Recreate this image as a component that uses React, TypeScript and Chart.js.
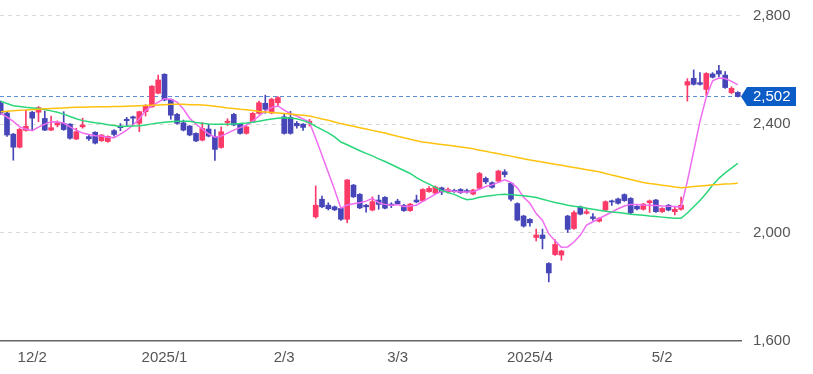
import React, { useEffect, useRef } from 'react';
import { Chart, registerables } from 'chart.js';

Chart.register(...registerables);

const tickIdx = [5, 26, 45, 63, 84, 105];
const tickLabels = ['12/2', '2025/1', '2/3', '3/3', '2025/4', '5/2'];
const yTicks = [1600, 2000, 2400, 2800];

const opens = [
  2478, 2441, 2363, 2315, 2377, 2444, 2444, 2421, 2378, 2397,
  2403, 2400, 2345, 2390, 2354, 2370, 2339, 2336, 2376, 2393,
  2418, 2427, 2403, 2446, 2464, 2514, 2584, 2491, 2436, 2405,
  2393, 2366, 2341, 2382, 2354, 2314, 2406, 2436, 2400, 2366,
  2409, 2440, 2477, 2441, 2479, 2427, 2425, 2403, 2400, 2405,
  2058, 2123, 2101, 2095, 2089, 2049, 2175, 2141, 2101, 2083,
  2120, 2130, 2105, 2116, 2101, 2081, 2120, 2117, 2151, 2145,
  2165, 2151, 2156, 2159, 2155, 2142, 2163, 2200, 2184, 2190,
  2224, 2182, 2107, 2061, 2049, 1982, 1991, 1886, 1919, 1917,
  2061, 2015, 2095, 2071, 2058, 2042, 2083, 2117, 2124, 2140,
  2126, 2097, 2086, 2110, 2120, 2077, 2101, 2077, 2086, 2544,
  2569, 2553, 2528, 2585, 2597, 2581, 2516, 2517,
];
const closes = [
  2441, 2360, 2315, 2381, 2392, 2422, 2461, 2378, 2387, 2405,
  2380, 2348, 2372, 2397, 2346, 2330, 2360, 2355, 2362, 2387,
  2413, 2422, 2446, 2467, 2540, 2563, 2489, 2433, 2403, 2378,
  2360, 2338, 2384, 2356, 2307, 2372, 2411, 2397, 2366, 2390,
  2440, 2479, 2455, 2492, 2498, 2366, 2366, 2394, 2388, 2411,
  2101, 2095, 2088, 2084, 2049, 2194, 2132, 2091, 2095, 2114,
  2104, 2090, 2100, 2106, 2081, 2105, 2113, 2159, 2163, 2168,
  2150, 2159, 2151, 2147, 2150, 2157, 2218, 2187, 2167, 2227,
  2214, 2123, 2046, 2024, 2036, 1991, 1978, 1851, 1956, 1932,
  2012, 2074, 2068, 2077, 2052, 2052, 2114, 2113, 2108, 2118,
  2073, 2087, 2105, 2117, 2077, 2089, 2083, 2086, 2101, 2557,
  2547, 2547, 2587, 2573, 2585, 2535, 2532, 2502,
];
const highs = [
  2485, 2445, 2366, 2384, 2452, 2447, 2465, 2448, 2430, 2412,
  2446, 2402, 2385, 2422, 2360, 2372, 2362, 2357, 2380, 2402,
  2425, 2430, 2448, 2472, 2542, 2581, 2586, 2493, 2440, 2415,
  2395, 2368, 2406, 2400, 2380, 2390, 2420, 2440, 2403, 2393,
  2443, 2485, 2507, 2496, 2502, 2440, 2447, 2410, 2402, 2418,
  2172, 2135, 2110, 2098, 2092, 2196, 2178, 2144, 2104, 2132,
  2138, 2133, 2110, 2123, 2104, 2108, 2138, 2162, 2170, 2172,
  2168, 2165, 2160, 2162, 2160, 2160, 2222, 2205, 2187, 2230,
  2232, 2185, 2110, 2064, 2052, 2013, 2013, 1889, 1974, 1935,
  2064, 2080, 2098, 2090, 2070, 2055, 2117, 2120, 2127, 2143,
  2129, 2100, 2108, 2120, 2123, 2092, 2104, 2095, 2131, 2568,
  2600, 2590, 2590, 2590, 2617, 2594, 2538, 2520,
];
const lows = [
  2436, 2355, 2267, 2312, 2374, 2378, 2409, 2376, 2376, 2390,
  2377, 2345, 2343, 2385, 2340, 2327, 2336, 2333, 2356, 2376,
  2394, 2398, 2372, 2430, 2462, 2512, 2486, 2418, 2400, 2375,
  2357, 2335, 2338, 2353, 2266, 2311, 2395, 2394, 2363, 2363,
  2406, 2437, 2440, 2438, 2465, 2363, 2363, 2385, 2377, 2393,
  2053, 2092, 2083, 2081, 2045, 2036, 2129, 2088, 2075, 2080,
  2086, 2087, 2092, 2103, 2078, 2078, 2110, 2114, 2148, 2142,
  2140, 2145, 2148, 2144, 2145, 2139, 2160, 2180, 2164, 2187,
  2205, 2117, 2043, 2020, 2024, 1969, 1940, 1818, 1916, 1898,
  2000, 2012, 2065, 2068, 2045, 2039, 2080, 2100, 2105, 2115,
  2068, 2084, 2083, 2074, 2074, 2074, 2080, 2065, 2083, 2485,
  2544, 2544, 2506, 2570, 2575, 2532, 2512, 2500,
];
const ma5 = [
  2440, 2426, 2410, 2390, 2382, 2376, 2389, 2400, 2409, 2408,
  2404, 2390, 2378, 2367, 2362, 2357, 2356, 2352, 2350, 2363,
  2378, 2397, 2419, 2450, 2467, 2481, 2494, 2492, 2481, 2456,
  2422, 2400, 2382, 2364, 2352, 2356, 2367, 2378, 2387, 2397,
  2411, 2430, 2448, 2461, 2467, 2452, 2439, 2430, 2419, 2408,
  2348, 2285, 2222, 2158, 2090, 2102, 2106, 2110, 2116, 2126,
  2110, 2104, 2101, 2103, 2096, 2098, 2101, 2115, 2128, 2142,
  2152, 2156, 2152, 2150, 2150, 2151, 2160, 2170, 2176, 2185,
  2195, 2185, 2165, 2130, 2108, 2070, 2045, 1995, 1970, 1946,
  1947, 1965, 1990, 2028, 2040, 2052, 2064, 2076, 2088, 2098,
  2104, 2104, 2102, 2101, 2100, 2098, 2097, 2096, 2094, 2190,
  2300, 2410, 2500, 2560, 2570, 2568, 2558, 2545,
];
const ma25 = [
  2485, 2476, 2468, 2465, 2462, 2460, 2458, 2454, 2449, 2444,
  2437, 2428, 2420, 2413, 2409, 2405, 2402, 2398, 2395, 2391,
  2392, 2393, 2394, 2397, 2401, 2404, 2407, 2409, 2411, 2411,
  2411, 2406, 2403, 2401, 2400, 2400, 2400, 2401, 2402, 2404,
  2407, 2411, 2415, 2419, 2422, 2424, 2423, 2420, 2413, 2405,
  2392, 2380, 2368, 2353, 2334, 2324, 2313, 2302, 2292, 2283,
  2272, 2262, 2251, 2240, 2229, 2218, 2203, 2190, 2179, 2167,
  2155, 2148, 2141, 2130, 2121, 2124, 2130, 2134, 2137, 2140,
  2141, 2140, 2138, 2136, 2133, 2129, 2123, 2117, 2111, 2106,
  2101, 2097, 2094, 2090, 2086, 2082, 2079, 2076, 2074, 2071,
  2068, 2066, 2064, 2061, 2059, 2057, 2055, 2053, 2053, 2072,
  2095, 2118, 2145, 2175, 2200, 2220, 2238, 2255,
];
const ma75 = [
  2446, 2448, 2449, 2451, 2452, 2454, 2455, 2457, 2458, 2459,
  2460, 2461, 2462, 2462, 2463, 2464, 2464, 2464, 2465, 2465,
  2466, 2467, 2468, 2469, 2470, 2471, 2472, 2473, 2473, 2473,
  2472, 2472, 2471, 2469, 2466, 2463, 2460, 2458, 2455, 2453,
  2450, 2447, 2445, 2443, 2441, 2439, 2437, 2435, 2433, 2430,
  2425, 2419, 2414, 2408, 2402, 2397, 2392, 2387, 2382, 2377,
  2372, 2367, 2361, 2355, 2350, 2344, 2339, 2334, 2331, 2328,
  2325, 2322, 2319, 2316, 2313, 2309, 2304, 2300, 2295, 2291,
  2286, 2282, 2277, 2272, 2268, 2264, 2260, 2256, 2252, 2248,
  2244, 2240, 2236, 2232, 2228, 2224, 2218, 2212, 2207, 2201,
  2196, 2190, 2185, 2181, 2178, 2175, 2172, 2168, 2165, 2167,
  2170, 2172, 2174, 2176, 2177, 2179, 2180, 2182,
];

const UP = '#fc3a68';
const DOWN = '#4646b8';
const FONT = '"Liberation Sans", Arial, sans-serif';

const priceTag = {
  id: 'priceTag',
  beforeDatasetsDraw(chart: any) {
    const { ctx, chartArea, scales } = chart;
    const last = closes[closes.length - 1];
    const y = Math.round(scales.y.getPixelForValue(last)) + 0.5;
    ctx.save();
    ctx.strokeStyle = '#5a8fd8';
    ctx.lineWidth = 1;
    ctx.setLineDash([4, 3]);
    ctx.beginPath();
    ctx.moveTo(chartArea.left, y);
    ctx.lineTo(chartArea.right, y);
    ctx.stroke();
    ctx.restore();
  },
  afterDraw(chart: any) {
    const { ctx, chartArea, scales } = chart;
    const last = closes[closes.length - 1];
    const y = scales.y.getPixelForValue(last);
    const x0 = chartArea.right;
    ctx.save();
    ctx.fillStyle = '#0b5cc6';
    ctx.beginPath();
    ctx.moveTo(x0, y);
    ctx.lineTo(x0 + 6, y - 9.5);
    ctx.lineTo(x0 + 55, y - 9.5);
    ctx.lineTo(x0 + 55, y + 9.5);
    ctx.lineTo(x0 + 6, y + 9.5);
    ctx.closePath();
    ctx.fill();
    ctx.fillStyle = '#ffffff';
    ctx.font = '15px ' + FONT;
    ctx.textBaseline = 'middle';
    ctx.textAlign = 'left';
    ctx.fillText(last.toLocaleString('en-US'), x0 + 12, y + 0.5);
    ctx.restore();
  },
};

export default function App() {
  const ref = useRef<HTMLCanvasElement | null>(null);
  useEffect(() => {
    document.body.style.margin = '0';
    const canvas = ref.current;
    if (!canvas) return;
    const idx = opens.map((_, i) => i);
    const colors = idx.map((i) => (closes[i] >= opens[i] ? UP : DOWN));
    const chart = new Chart(canvas, {
      type: 'bar',
      data: {
        datasets: [
          {
            type: 'line',
            data: idx.map((i) => ({ x: i, y: ma75[i] })),
            borderColor: '#ffc20e',
            borderWidth: 1.5,
            pointRadius: 0,
            order: 0,
          } as any,
          {
            type: 'line',
            data: idx.map((i) => ({ x: i, y: ma25[i] })),
            borderColor: '#2ad67a',
            borderWidth: 1.5,
            pointRadius: 0,
            order: 0,
          } as any,
          {
            type: 'line',
            data: idx.map((i) => ({ x: i, y: ma5[i] })),
            borderColor: '#f06cf0',
            borderWidth: 1.5,
            pointRadius: 0,
            order: 0,
          } as any,
          {
            type: 'bar',
            data: idx.map((i) => ({ x: i, y: [opens[i], closes[i]] })),
            backgroundColor: colors,
            barThickness: 5,
            grouped: false,
            borderSkipped: false,
            order: 1,
          } as any,
          {
            type: 'bar',
            data: idx.map((i) => ({ x: i, y: [lows[i], highs[i]] })),
            backgroundColor: colors,
            barThickness: 1,
            grouped: false,
            borderSkipped: false,
            order: 2,
          } as any,
        ],
      },
      options: {
        animation: false,
        responsive: false,
        maintainAspectRatio: false,
        layout: { padding: 0 },
        plugins: { legend: { display: false }, tooltip: { enabled: false } },
        scales: {
          x: {
            type: 'linear',
            offset: false,
            min: -0.111,
            max: 117.51,
            grid: { display: false, drawTicks: false },
            border: { display: true, color: '#666666', width: 1.5 },
            afterBuildTicks: (s: any) => {
              s.ticks = tickIdx.map((v) => ({ value: v }));
            },
            afterFit: (s: any) => {
              s.height = 33;
              s.paddingLeft = 0;
              s.paddingRight = 0;
            },
            ticks: {
              autoSkip: false,
              maxRotation: 0,
              padding: 8,
              color: '#555555',
              font: { family: FONT, size: 15 },
              callback: (v: any) => {
                const k = tickIdx.indexOf(Number(v));
                return k >= 0 ? tickLabels[k] : '';
              },
            },
          },
          y: {
            position: 'right',
            min: 1600,
            max: 2858,
            afterBuildTicks: (s: any) => {
              s.ticks = yTicks.map((v) => ({ value: v }));
            },
            afterFit: (s: any) => {
              s.width = 72;
              s.paddingTop = 0;
              s.paddingBottom = 0;
            },
            grid: {
              drawTicks: false,
              lineWidth: 1,
              color: (c: any) => (c.tick && c.tick.value === 1600 ? 'rgba(0,0,0,0)' : '#d9d9d9'),
            },
            border: { display: false, dash: [4, 4] },
            ticks: {
              padding: 12,
              color: '#555555',
              font: { family: FONT, size: 15 },
              callback: (v: any) => Number(v).toLocaleString('en-US'),
            },
          },
        },
      } as any,
      plugins: [priceTag],
    });
    return () => chart.destroy();
  }, []);
  return <canvas ref={ref} width={813} height={374} style={{ display: 'block' }} />;
}
